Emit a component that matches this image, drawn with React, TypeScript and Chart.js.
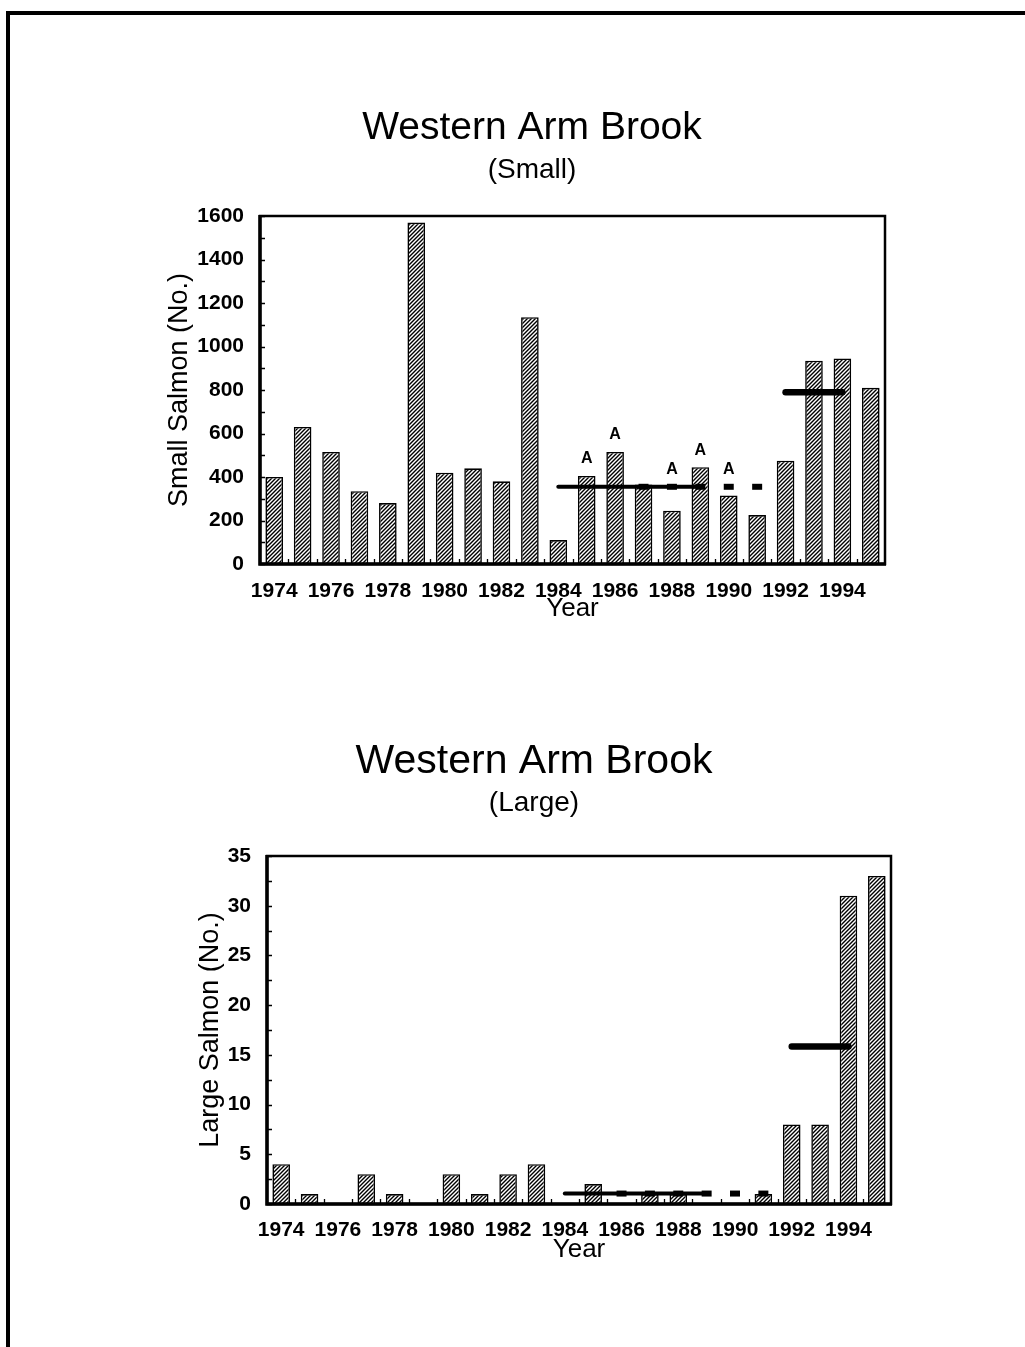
import React, { useEffect, useRef } from "react";
import { Chart, registerables } from "chart.js";

Chart.register(...registerables);

// ---- data -------------------------------------------------------------
const years = [
  1974, 1975, 1976, 1977, 1978, 1979, 1980, 1981, 1982, 1983, 1984,
  1985, 1986, 1987, 1988, 1989, 1990, 1991, 1992, 1993, 1994, 1995,
];
const yearTicks = [1974, 1976, 1978, 1980, 1982, 1984, 1986, 1988, 1990, 1992, 1994];

const smallCounts = [
  400, 630, 515, 335, 280, 1570, 420, 440, 380, 1135, 110,
  405, 515, 365, 245, 445, 315, 225, 475, 935, 945, 810,
];
const largeCounts = [
  4, 1, 0, 3, 1, 0, 3, 1, 3, 4, 0,
  2, 0, 1, 1, 0, 0, 1, 8, 8, 31, 33,
];

// mean levels: 1984-1989 (solid), the dashed continuation, and 1992-1994
const smallMeanYears = [1984, 1989];
const smallMeanLevel = 355;
const smallDashYears = [1987, 1988, 1989, 1990, 1991];
const smallRecentYears = [1992, 1994];
const smallRecentLevel = 790;

const largeMeanYears = [1984, 1989];
const largeMeanLevel = 1.05;
const largeDashYears = [1986, 1987, 1988, 1989, 1990, 1991];
const largeRecentYears = [1992, 1994];
const largeRecentLevel = 15.85;

// years flagged with "A"
const smallFlagYears = [1985, 1986, 1988, 1989, 1990];
const largeFlagYears: number[] = [];

const smallYTicks = { max: 1600, step: 200, minor: 100 };
const largeYTicks = { max: 35, step: 5, minor: 2.5 };

// ---- styling ----------------------------------------------------------
const FONT = "'Liberation Sans', Arial, Helvetica, sans-serif";
Chart.defaults.font.family = FONT;
Chart.defaults.color = "#000";

function makeHatch(): CanvasPattern | string {
  const c = document.createElement("canvas");
  c.width = 4;
  c.height = 4;
  const g = c.getContext("2d");
  if (!g) return "#999";
  g.fillStyle = "#fff";
  g.fillRect(0, 0, 4, 4);
  g.strokeStyle = "#000";
  g.lineWidth = 1.4;
  g.beginPath();
  g.moveTo(0, 4);
  g.lineTo(4, 0);
  g.moveTo(-1, 1);
  g.lineTo(1, -1);
  g.moveTo(3, 5);
  g.lineTo(5, 3);
  g.stroke();
  return g.createPattern(c, "repeat") || "#999";
}

// title + subtitle centred over the whole canvas
const headingPlugin = {
  id: "heading",
  afterDraw(chart: any, _args: any, opts: any) {
    const { ctx, width } = chart;
    ctx.save();
    ctx.fillStyle = "#000";
    ctx.textAlign = "center";
    ctx.textBaseline = "middle";
    ctx.font = `${opts.titleSize}px ${FONT}`;
    ctx.fillText(opts.title, width / 2, opts.titleY);
    ctx.font = `${opts.subSize}px ${FONT}`;
    ctx.fillText(opts.subtitle, width / 2, opts.subY);
    ctx.restore();
  },
};

// frame around the plot plus small inward ticks
const axisFramePlugin = {
  id: "axisFrame",
  afterDatasetsDraw(chart: any, _args: any, opts: any) {
    const { ctx, chartArea: a, scales } = chart;
    const x = scales.x;
    const y = scales.y;
    ctx.save();
    ctx.strokeStyle = "#000";
    ctx.lineWidth = 1.3;
    ctx.beginPath();
    for (let v = 0; v <= y.max + 1e-9; v += opts.yMinor) {
      const py = Math.round(y.getPixelForValue(v)) + 0.5;
      ctx.moveTo(a.left, py);
      ctx.lineTo(a.left + 5, py);
    }
    for (let v = x.min + 1; v < x.max; v += 1) {
      const px = Math.round(x.getPixelForValue(v)) + 0.5;
      ctx.moveTo(px, a.bottom);
      ctx.lineTo(px, a.bottom - 5);
    }
    ctx.stroke();

    ctx.lineWidth = 2.5;
    ctx.strokeRect(a.left, a.top, a.right - a.left, a.bottom - a.top);
    ctx.lineWidth = 3.5;
    ctx.beginPath();
    ctx.moveTo(a.left, a.top - 1);
    ctx.lineTo(a.left, a.bottom);
    ctx.lineTo(a.right + 1, a.bottom);
    ctx.stroke();
    ctx.restore();
  },
};

// "A" flags above the bar or mean line, whichever is higher
const flagPlugin = {
  id: "flags",
  afterDatasetsDraw(chart: any, _args: any, opts: any) {
    if (!opts.years || !opts.years.length) return;
    const { ctx, scales } = chart;
    const x = scales.x;
    const y = scales.y;
    const bars = chart.data.datasets[0].data as { x: number; y: number }[];
    ctx.save();
    ctx.fillStyle = "#000";
    ctx.font = `bold 16px ${FONT}`;
    ctx.textAlign = "center";
    ctx.textBaseline = "middle";
    for (const yr of opts.years) {
      const bar = bars.find((d) => d.x === yr);
      const barTop = y.getPixelForValue(bar ? bar.y : 0);
      const lineTop = y.getPixelForValue(opts.level);
      ctx.fillText("A", x.getPixelForValue(yr), Math.min(barTop, lineTop) - 17);
    }
    ctx.restore();
  },
};

type Panel = {
  title: string;
  subtitle: string;
  yTitle: string;
  counts: number[];
  ticksY: { max: number; step: number; minor: number };
  meanYears: number[];
  meanLevel: number;
  dashYears: number[];
  recentYears: number[];
  recentLevel: number;
  flagYears: number[];
  layout: {
    titleSize: number;
    titleY: number;
    subY: number;
    padTop: number;
    yAxisWidth: number;
    yTitlePad: number;
    xAxisHeight: number;
    xTickPad: number;
    padRight: number;
    padBottom: number;
  };
};

const smallPanel: Panel = {
  title: "Western Arm Brook",
  subtitle: "(Small)",
  yTitle: "Small Salmon (No.)",
  counts: smallCounts,
  ticksY: smallYTicks,
  meanYears: smallMeanYears,
  meanLevel: smallMeanLevel,
  dashYears: smallDashYears,
  recentYears: smallRecentYears,
  recentLevel: smallRecentLevel,
  flagYears: smallFlagYears,
  layout: {
    titleSize: 39,
    titleY: 48,
    subY: 90,
    padTop: 136,
    yAxisWidth: 110,
    yTitlePad: 16.5,
    xAxisHeight: 58,
    xTickPad: 8.5,
    padRight: 29,
    padBottom: 18,
  },
};

const largePanel: Panel = {
  title: "Western Arm Brook",
  subtitle: "(Large)",
  yTitle: "Large Salmon (No.)",
  counts: largeCounts,
  ticksY: largeYTicks,
  meanYears: largeMeanYears,
  meanLevel: largeMeanLevel,
  dashYears: largeDashYears,
  recentYears: largeRecentYears,
  recentLevel: largeRecentLevel,
  flagYears: largeFlagYears,
  layout: {
    titleSize: 41,
    titleY: 62,
    subY: 103,
    padTop: 156,
    yAxisWidth: 117,
    yTitlePad: 47.5,
    xAxisHeight: 59,
    xTickPad: 7.5,
    padRight: 27,
    padBottom: 27,
  },
};

function buildConfig(p: Panel, hatch: CanvasPattern | string): any {
  const L = p.layout;
  return {
    type: "bar",
    data: {
      datasets: [
        {
          type: "bar",
          data: years.map((yr, i) => ({ x: yr, y: p.counts[i] })),
          backgroundColor: hatch,
          borderColor: "#000",
          borderWidth: 1.6,
          barPercentage: 0.62,
          categoryPercentage: 1,
          order: 1,
        },
        {
          type: "line",
          data: p.meanYears.map((yr) => ({ x: yr, y: p.meanLevel })),
          borderColor: "#000",
          borderWidth: 4,
          borderCapStyle: "round",
          pointRadius: 0,
          order: 0,
        },
        {
          type: "line",
          data: p.dashYears.map((yr) => ({ x: yr, y: p.meanLevel })),
          showLine: false,
          pointStyle: "line",
          pointRadius: 5,
          pointBorderWidth: 6,
          pointBorderColor: "#000",
          pointBackgroundColor: "#000",
          order: 0,
        },
        {
          type: "line",
          data: p.recentYears.map((yr) => ({ x: yr, y: p.recentLevel })),
          borderColor: "#000",
          borderWidth: 6.5,
          borderCapStyle: "round",
          pointRadius: 0,
          order: 0,
        },
      ],
    },
    options: {
      responsive: false,
      animation: false,
      events: [],
      layout: { padding: { left: 0, top: L.padTop, right: L.padRight, bottom: L.padBottom } },
      plugins: {
        legend: { display: false },
        tooltip: { enabled: false },
        title: { display: false },
        heading: {
          title: p.title,
          subtitle: p.subtitle,
          titleSize: L.titleSize,
          subSize: 28,
          titleY: L.titleY,
          subY: L.subY,
        },
        axisFrame: { yMinor: p.ticksY.minor },
        flags: { years: p.flagYears, level: p.meanLevel },
      },
      scales: {
        x: {
          type: "linear",
          offset: false,
          min: years[0] - 0.5,
          max: years[years.length - 1] + 0.5,
          grid: { display: false, offset: false },
          border: { display: false },
          afterBuildTicks: (s: any) => {
            s.ticks = yearTicks.map((v) => ({ value: v }));
          },
          afterFit: (s: any) => {
            s.height = L.xAxisHeight;
          },
          ticks: {
            autoSkip: false,
            maxRotation: 0,
            minRotation: 0,
            padding: L.xTickPad,
            color: "#000",
            font: { family: FONT, size: 21, weight: "bold", lineHeight: 1 },
            callback: (v: any) => String(v),
          },
          title: {
            display: true,
            text: "Year",
            color: "#000",
            font: { family: FONT, size: 26, weight: "normal", lineHeight: 1 },
            padding: { top: 0, bottom: 0 },
          },
        },
        y: {
          type: "linear",
          min: 0,
          max: p.ticksY.max,
          grid: { display: false },
          border: { display: false },
          afterFit: (s: any) => {
            s.width = L.yAxisWidth;
          },
          ticks: {
            stepSize: p.ticksY.step,
            padding: 8,
            color: "#000",
            font: { family: FONT, size: 21, weight: "bold", lineHeight: 1 },
            callback: (v: any) => String(v),
          },
          title: {
            display: true,
            text: p.yTitle,
            color: "#000",
            font: { family: FONT, size: 27, weight: "normal", lineHeight: 1 },
            padding: { top: L.yTitlePad, bottom: 0 },
          },
        },
      },
    },
    plugins: [axisFramePlugin, flagPlugin, headingPlugin],
  };
}

export default function App() {
  const topRef = useRef<HTMLCanvasElement>(null);
  const bottomRef = useRef<HTMLCanvasElement>(null);

  useEffect(() => {
    const hatch = makeHatch();
    const charts: Chart[] = [];
    if (topRef.current) charts.push(new Chart(topRef.current, buildConfig(smallPanel, hatch)));
    if (bottomRef.current) charts.push(new Chart(bottomRef.current, buildConfig(largePanel, hatch)));
    return () => charts.forEach((c) => c.destroy());
  }, []);

  return (
    <div
      style={{
        position: "absolute",
        left: 0,
        top: 0,
        width: 1025,
        height: 1347,
        background: "#fff",
        overflow: "hidden",
      }}
    >
      <div
        style={{
          position: "absolute",
          left: 6,
          top: 11,
          right: 0,
          bottom: 0,
          borderTop: "4px solid #000",
          borderLeft: "4px solid #000",
        }}
      />
      <canvas
        ref={topRef}
        width={764}
        height={560}
        style={{ position: "absolute", left: 150, top: 80 }}
      />
      <canvas
        ref={bottomRef}
        width={768}
        height={590}
        style={{ position: "absolute", left: 150, top: 700 }}
      />
    </div>
  );
}
